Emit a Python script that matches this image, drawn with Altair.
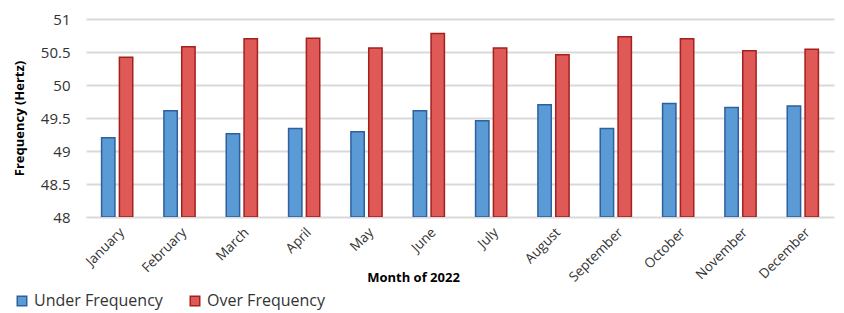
import altair as alt
import pandas as pd

months = ["January", "February", "March", "April", "May", "June", "July",
          "August", "September", "October", "November", "December"]
under = [49.20, 49.61, 49.26, 49.34, 49.29, 49.61, 49.46, 49.70, 49.34, 49.72, 49.66, 49.68]
over = [50.42, 50.58, 50.70, 50.71, 50.56, 50.78, 50.56, 50.46, 50.73, 50.70, 50.52, 50.54]
series = ["Under Frequency", "Over Frequency"]

rows = []
for m, u, o in zip(months, under, over):
    rows.append({"month": m, "series": series[0], "value": u})
    rows.append({"month": m, "series": series[1], "value": o})
df = pd.DataFrame(rows)

FONT = "Open Sans"

chart = alt.Chart(df).mark_bar(strokeWidth=1.5, clip=True).encode(
    x=alt.X("month:N", sort=months,
            scale=alt.Scale(paddingInner=0.5, paddingOuter=0.25),
            axis=alt.Axis(title="Month of 2022", labelAngle=-45, labelFontSize=13.5,
                          labelFont=FONT, labelColor="#333333", titleFont=FONT,
                          titleFontSize=13, titleFontWeight="bold", titleColor="#000000",
                          ticks=False, domain=False, labelPadding=8,
                          titleX=327, titleY=54, titleAnchor="middle")),
    xOffset=alt.XOffset("series:N", sort=series, scale=alt.Scale(paddingInner=0.25)),
    y=alt.Y("value:Q", scale=alt.Scale(domain=[48, 51], zero=False, nice=False),
            axis=alt.Axis(title="Frequency (Hertz)", values=[48, 48.5, 49, 49.5, 50, 50.5, 51],
                          labelExpr="datum.value + ''",
                          labelFontSize=15, labelFont=FONT, labelColor="#333333",
                          titleFont=FONT, titleFontSize=13, titleFontWeight="bold",
                          titleColor="#000000", ticks=False, domain=False,
                          gridColor="#d9d9d9", gridWidth=2, labelPadding=16,
                          titlePadding=14)),
    y2=alt.datum(48),
    color=alt.Color("series:N", sort=series,
                    scale=alt.Scale(domain=series, range=["#5b9bd5", "#df5a57"]),
                    legend=alt.Legend(title=None, orient="none", direction="horizontal",
                                      legendX=-72, legendY=274, symbolType="square",
                                      symbolSize=90, symbolStrokeWidth=1.5,
                                      labelFont=FONT, labelFontSize=16,
                                      labelColor="#333333", columnPadding=24,
                                      labelOffset=4)),
    stroke=alt.Stroke("series:N", sort=series,
                      scale=alt.Scale(domain=series, range=["#2e5f9e", "#a3201e"]),
                      legend=None),
).properties(
    width=748, height=198,
    autosize=alt.AutoSizeParams(type="none"),
    padding={"left": 78, "top": 11, "right": 2, "bottom": 96},
).configure_view(stroke=None)

chart.save("out.html", embed_options={"renderer": "svg", "actions": False})
